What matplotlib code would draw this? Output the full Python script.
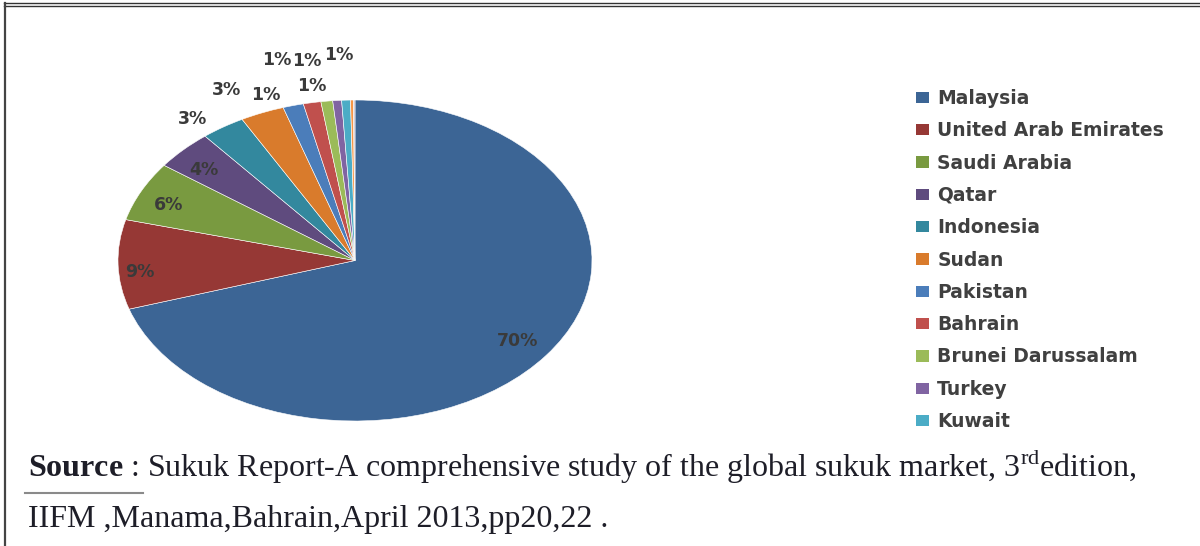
import numpy as np
import matplotlib.pyplot as plt
from matplotlib.patches import Patch
from matplotlib.lines import Line2D

# share of global sukuk issuance by country (%)
countries = ['Malaysia', 'United Arab Emirates', 'Saudi Arabia', 'Qatar',
             'Indonesia', 'Sudan', 'Pakistan', 'Bahrain',
             'Brunei Darussalam', 'Turkey', 'Kuwait']
shares = [70.1, 9.0, 6.0, 4.0, 3.0, 3.0, 1.4, 1.2, 0.8, 0.6, 0.6]
# remaining small issuers, not listed in the legend
other_shares = [0.2, 0.1]

colors = ['#3c6595', '#963835', '#799a40', '#5f4b7e', '#33889e', '#d97b2c',
          '#4b7dba', '#c0504d', '#9bbb59', '#8064a2', '#4bacc6']
other_colors = ['#f79646', '#c9bfc9']

# label radius / angular nudge (deg) for each percentage label
label_r = [0.85, 0.91, 0.86, 0.85, 1.12, 1.19, 1.10, 1.10, 1.29, 1.26, 1.28]
label_nudge = [0, 3, 2, 2, 4, 4, 5, -1, 8, 5, 1]

W, H = 1200, 546
fig = plt.figure(figsize=(W / 100, H / 100), dpi=100)
fig.patch.set_facecolor('white')

# pie is drawn as an ellipse: axes box = ellipse bounding box
ax = fig.add_axes([118 / W, (H - 421) / H, 474 / W, 321 / H])
wedges, _ = ax.pie(shares + other_shares, colors=colors + other_colors,
                   startangle=90, counterclock=False,
                   wedgeprops=dict(edgecolor='white', linewidth=0.4))
ax.set_aspect('auto')
ax.set_xlim(-1, 1)
ax.set_ylim(-1, 1)
ax.axis('off')

for i, v in enumerate(shares):
    w = wedges[i]
    mid = np.deg2rad((w.theta1 + w.theta2) / 2 + label_nudge[i])
    ax.text(label_r[i] * np.cos(mid), label_r[i] * np.sin(mid),
            f'{round(v)}%', ha='center', va='center', fontsize=12.5,
            fontweight='bold', color='#3a3a3a')

handles = [Patch(facecolor=c, edgecolor='none') for c in colors]
fig.legend(handles, countries, loc='upper left',
           bbox_to_anchor=(916 / W, (H - 89) / H), frameon=False,
           prop=dict(weight='bold', size=13.5),
           handlelength=0.68, handleheight=0.55, handletextpad=0.45,
           labelspacing=0.71, borderpad=0, borderaxespad=0,
           labelcolor='#404040')

# source note under the chart
plt.rcParams['mathtext.fontset'] = 'custom'
plt.rcParams['mathtext.rm'] = 'Liberation Serif'
plt.rcParams['mathtext.bf'] = 'Liberation Serif:bold'
src_font = dict(family='Liberation Serif', size=23, color='#1e1e28')
fig.text(28 / W, (H - 477) / H,
         r'$\mathbf{Source}$ : Sukuk Report-A comprehensive study of the '
         r'global sukuk market, 3$^{\rm rd}$edition,',
         va='baseline', ha='left', **src_font)
fig.text(28 / W, (H - 527) / H,
         'IIFM ,Manama,Bahrain,April 2013,pp20,22 .',
         va='baseline', ha='left', **src_font)
fig.add_artist(Line2D([25 / W, 143 / W], [(H - 493) / H] * 2,
                      color='#8a8a8a', linewidth=1.5))

# frame lines along the top and left edge
for y in (3, 6):
    fig.add_artist(Line2D([4 / W, 1], [(H - y) / H] * 2,
                          color='#333333', linewidth=1.0))
fig.add_artist(Line2D([5 / W, 5 / W], [0, (H - 3) / H],
                      color='#444444', linewidth=1.6))

fig.savefig('out.png', dpi=100)
